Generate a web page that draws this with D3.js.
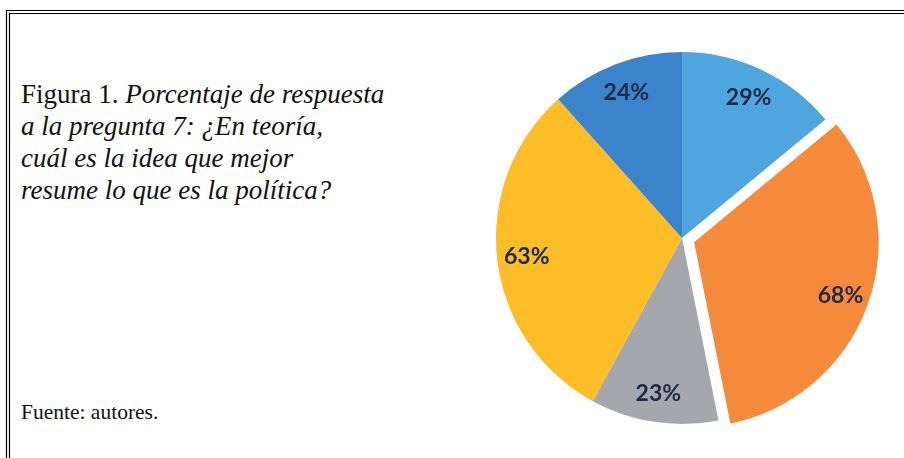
<!DOCTYPE html>
<html>
<head>
<meta charset="utf-8">
<script src="https://cdn.jsdelivr.net/npm/d3@7"></script>
<style>
  html, body { margin: 0; padding: 0; background: #fff; }
  svg { display: block; }
</style>
</head>
<body>
<svg id="chart" width="904" height="458"></svg>
<script>
// Response shares for question 7, clockwise from 12 o'clock
const sliceKeys   = ["s1", "s2", "s3", "s4", "s5"];
const sliceValues = [29, 68, 23, 63, 24];
const sliceLabels = ["29%", "68%", "23%", "63%", "24%"];
const explodedKey = "s2";

const titleLines = [
  [{t: "Figura 1. ", i: false}, {t: "Porcentaje de respuesta", i: true}],
  [{t: "a la pregunta 7: ¿En teoría,", i: true}],
  [{t: "cuál es la idea que mejor", i: true}],
  [{t: "resume lo que es la política?", i: true}]
];
const sourceText = "Fuente: autores.";

const svg = d3.select("#chart");
const W = 904, H = 458;

// double frame (top and left)
const frame = svg.append("g").attr("stroke", "#000").attr("stroke-width", 1.2).attr("fill", "none");
frame.append("path").attr("d", `M6.5,${H} V10.5 H${W}`);
frame.append("path").attr("d", `M9.5,${H} V13.5 H${W}`);

// caption
const title = svg.append("text")
  .attr("font-family", "'Liberation Serif', 'Times New Roman', serif")
  .attr("font-size", 27)
  .attr("fill", "#111");
titleLines.forEach((line, k) => {
  line.forEach((part, j) => {
    const s = title.append("tspan").text(part.t)
      .attr("font-style", part.i ? "italic" : "normal");
    if (j === 0) s.attr("x", 21).attr("y", 103 + k * 32);
  });
});

svg.append("text")
  .attr("x", 21).attr("y", 419)
  .attr("font-family", "'Liberation Serif', 'Times New Roman', serif")
  .attr("font-size", 21.5)
  .attr("fill", "#111")
  .text(sourceText);

// pie
const cx = 682, cy = 238, R = 186, explode = 12;
const color = d3.scaleOrdinal()
  .domain(sliceKeys)
  .range(["#4fa6df", "#f68a3a", "#a4a8ae", "#fcbd27", "#3b83ca"]);

const data = sliceKeys.map((k, i) => ({key: k, value: sliceValues[i], label: sliceLabels[i]}));
const pie = d3.pie().value(d => d.value).sort(null).startAngle(0).endAngle(2 * Math.PI);
const arcs = pie(data);
const arc = d3.arc().innerRadius(0).outerRadius(R);
const labelArc = d3.arc().innerRadius(R * 0.84).outerRadius(R * 0.84);

const defs = svg.append("defs");
defs.append("filter").attr("id", "soft")
  .attr("x", "-5%").attr("y", "-5%").attr("width", "110%").attr("height", "110%")
  .append("feGaussianBlur").attr("stdDeviation", 0.7);

const pieG = svg.append("g")
  .attr("transform", `translate(${cx},${cy})`)
  .attr("filter", "url(#soft)");

function offset(d) {
  if (d.data.key !== explodedKey) return [0, 0];
  const a = (d.startAngle + d.endAngle) / 2;
  return [Math.sin(a) * explode, -Math.cos(a) * explode];
}

const slice = pieG.selectAll("g.slice").data(arcs).join("g")
  .attr("class", "slice")
  .attr("transform", d => { const o = offset(d); return `translate(${o[0]},${o[1]})`; });

slice.append("path")
  .attr("d", arc)
  .attr("fill", d => color(d.data.key))
  .attr("stroke", d => d.data.key === explodedKey ? "#fff" : "none")
  .attr("stroke-width", 1.5);

slice.append("text")
  .attr("transform", d => `translate(${labelArc.centroid(d)})`)
  .attr("text-anchor", "middle")
  .attr("dy", "0.36em")
  .attr("font-family", "Lato, 'Open Sans', sans-serif")
  .attr("font-weight", 700)
  .attr("font-size", 23)
  .attr("fill", "#1d2b48")
  .text(d => d.data.label);
</script>
</body>
</html>
